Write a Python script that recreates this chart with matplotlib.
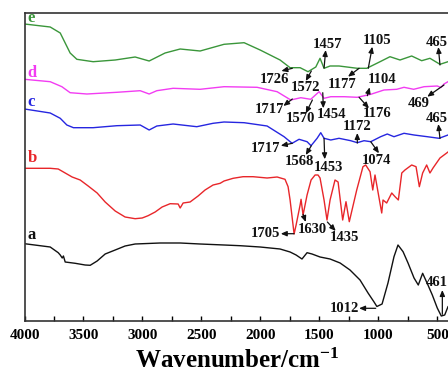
import matplotlib
matplotlib.use("Agg")
import matplotlib.pyplot as plt

plt.rcParams['font.family'] = ['Liberation Serif', 'DejaVu Serif']
plt.rcParams['font.weight'] = 'bold'
plt.rcParams['mathtext.fontset'] = 'custom'
plt.rcParams['mathtext.rm'] = 'Liberation Serif:bold'
plt.rcParams['mathtext.bf'] = 'Liberation Serif:bold'
plt.rcParams['mathtext.default'] = 'bf'

# ---------------- data (wavenumber, offset transmittance) ----------------
a_wn = [4000, 3782, 3714, 3697, 3680, 3670, 3655, 3570, 3486, 3443, 3384, 3316, 3231, 3147, 3062,
        2850, 2680, 2511, 2308, 2172, 2002, 1833, 1748, 1697, 1647, 1604, 1562, 1494, 1409, 1324,
        1240, 1155, 1087, 1036, 1012, 968, 918, 867, 833, 790, 748, 697, 661, 624, 579, 542, 500,
        466, 437, 409]
a_val = [77.3, 74, 68.3, 66, 63, 65, 59, 57.7, 56, 55.7, 60, 67, 71, 75, 77,
         78, 78, 77, 76, 75.3, 74, 72, 69, 66, 62, 68.3, 67, 64, 62, 58,
         51, 41, 28, 19, 14.5, 17, 38, 64.3, 76, 69.3, 58, 43, 36, 47.7, 36, 26, 13,
         5, 6, 14.3]

b_wn = [4000, 3782, 3714, 3655, 3596, 3528, 3460, 3384, 3316, 3231, 3147, 3062, 3002, 2952, 2892,
        2833, 2765, 2697, 2680, 2655, 2596, 2528, 2469, 2401, 2341, 2308, 2231, 2147, 2062, 1943,
        1858, 1791, 1765, 1748, 1714, 1697, 1663, 1655, 1638, 1604, 1570, 1536, 1511, 1494, 1460,
        1435, 1409, 1367, 1341, 1302, 1274, 1246, 1183, 1130, 1107, 1070, 1047, 1028, 971, 960,
        929, 886, 858, 830, 801, 774, 717, 680, 652, 624, 590, 562, 536, 477, 420, 409]
b_val = [152.7, 152.7, 152, 148, 144, 141, 135, 128, 119, 110, 104, 102.3, 103, 105.3, 109,
         114, 117.3, 117, 113, 118, 119, 125, 131, 136, 137.7, 140, 142.7, 144.3, 144.3, 143,
         144, 141.7, 134.3, 121, 87, 96, 116, 121.7, 106, 126, 141, 146, 146, 143, 121,
         101, 121, 141, 139, 101, 119.3, 99.3, 131, 154.3, 156, 149.3, 131, 146, 108, 121,
         118, 128, 124.3, 121, 148, 151, 156, 154.3, 134.3, 148, 156, 148, 153, 163, 168, 169]

c_wn = [4000, 3782, 3697, 3641, 3585, 3418, 3217, 3019, 2943, 2878, 2740, 2539, 2401, 2308, 2138,
        1943, 1799, 1731, 1672, 1604, 1570, 1519, 1488, 1460, 1403, 1333, 1234, 1178, 1121, 1064,
        980, 924, 867, 782, 697, 585, 485, 409]
c_val = [212, 208, 202.7, 196, 193.3, 193.3, 195.3, 196, 191, 195, 197, 194.3, 197.7, 199, 198.3,
         195, 184.3, 177.7, 181.7, 179.3, 175.3, 182.7, 188.3, 182.7, 181, 182.7, 180.3, 178.3, 180.3, 179.3,
         184.3, 187, 184.3, 187.7, 186, 184.3, 182.7, 186]

d_wn = [4000, 3782, 3683, 3613, 3471, 3217, 3019, 2943, 2878, 2740, 2511, 2308, 2028, 1858, 1742,
        1657, 1573, 1502, 1460, 1403, 1290, 1178, 1064, 952, 844, 782, 700, 612, 500, 469, 443, 409]
d_val = [241.7, 239.3, 234.3, 228.3, 227, 228.7, 230.3, 227, 230.3, 232.7, 231.7, 234.3, 233.7, 229.3, 221,
         223.3, 221.7, 229.3, 222.7, 224.3, 224.3, 223.7, 226.7, 231, 231.7, 233.7, 231.7, 234.3, 235, 233.5, 237, 239.3]

e_wn = [4000, 3782, 3697, 3655, 3613, 3556, 3418, 3231, 3062, 2943, 2808, 2680, 2511, 2308, 2138,
        2002, 1833, 1748, 1663, 1596, 1530, 1494, 1460, 1409, 1333, 1178, 1098, 985, 901, 816,
        717, 632, 562, 477, 409]
e_val = [297, 294, 288, 278, 268, 261.7, 259.3, 261, 264, 260, 268, 272, 270, 276.7, 278.3,
         271, 261, 253.3, 253.3, 249.3, 254, 262.7, 252.7, 255, 255, 252.7, 252.7, 259.3, 264.3, 261,
         265, 260.3, 262.7, 256.7, 259.3]

series_labels = ['a', 'b', 'c', 'd', 'e']
series_colors = ['#111111', '#e8262a', '#2626e0', '#f23cf2', '#3a963a']

x_ticks = [4000, 3500, 3000, 2500, 2000, 1500, 1000, 500]

# peak annotations: label, text position, arrow start (on curve), arrow end (near label)
peak_labels = ['1457', '1105', '465', '1726', '1572', '1177',
               '1104', '469', '1717', '1570', '1454', '1176',
               '1172', '465', '1717', '1568', '1453', '1074',
               '1705', '1630', '1435',
               '1012', '461']
peak_text_pos = [(1432, 276), (1008, 280), (508, 278.3), (1884, 241.7), (1621, 233.3), (1305, 236.7),
                 (966, 241.7), (655, 217.7), (1926, 211.7), (1657, 202.7), (1395, 207), (1013, 207.7),
                 (1178, 194.3), (508, 202), (1954, 172.7), (1672, 159.3), (1424, 153.3), (1013, 161),
                 (1958, 87.3), (1559, 91.7), (1290, 83.3),
                 (1290, 12.7), (505, 38.3)]
peak_arrow_from = [(1460, 253), (1085, 252.7), (477, 256), (1729, 252.7), (1568, 250), (1163, 252.7),
                   (1093, 225.3), (443, 236), (1729, 222), (1559, 221), (1471, 228.3), (1163, 223.7),
                   (1178, 178), (477, 182.5), (1729, 177.7), (1568, 175.3), (1460, 182.7), (1064, 179.3),
                   (1714, 87.3), (1638, 106.7), (1432, 99),
                   (1022, 12.7), (457, 6.7)]
peak_arrow_to = [(1446, 271), (1051, 274.3), (491, 274), (1822, 250), (1615, 240), (1257, 244.3),
                 (1073, 233.7), (585, 224.3), (1805, 215), (1615, 207.7), (1466, 212.7), (1079, 212.7),
                 (1178, 188), (491, 197), (1827, 175.3), (1615, 166), (1454, 161.7), (994, 167.7),
                 (1827, 87.3), (1615, 99), (1361, 90),
                 (1163, 12.7), (457, 31)]

# series letter positions
letter_pos = [(3975, 85.7), (3975, 163.3), (3975, 219.3), (3975, 247.7), (3975, 302.7)]

# ---------------- figure ----------------
fig = plt.figure(figsize=(4.48, 3.72), dpi=100)
ax = fig.add_axes([24.5 / 448, 1 - 321 / 372, 1 - 24.5 / 448, (321 - 13) / 372])

curves = [(a_wn, a_val), (b_wn, b_val), (c_wn, c_val), (d_wn, d_val), (e_wn, e_val)]
for (wn, val), col in zip(curves, series_colors):
    ax.plot(wn, val, color=col, lw=1.0, solid_joinstyle='round')

for lab, (x, y), col in zip(series_labels, letter_pos, series_colors):
    ax.text(x, y, lab, color=col, fontsize=12, fontweight='bold', ha='left', va='center')

for lab, tp, af, at in zip(peak_labels, peak_text_pos, peak_arrow_from, peak_arrow_to):
    ax.text(tp[0], tp[1], lab, fontsize=10.5, fontweight='bold', ha='center', va='center',
            color='#111111')
    ax.annotate('', xy=at, xytext=af,
                arrowprops=dict(arrowstyle='-|>,head_length=0.35,head_width=0.15',
                                color='#111111', lw=0.9, shrinkA=0, shrinkB=0))

ax.set_xlim(4000, 409)
ax.set_ylim(0, 308)
ax.set_xticks(x_ticks)
ax.set_xticks([3750, 3250, 2750, 2250, 1750, 1250, 750], minor=True)
ax.set_yticks([])
ax.tick_params(axis='x', which='both', direction='in', length=3.5, width=1.0, pad=6,
               labelsize=11, top=False)
for t in ax.get_xticklabels():
    t.set_fontweight('bold')
ax.spines['right'].set_visible(False)
for s in ['left', 'top', 'bottom']:
    ax.spines[s].set_linewidth(1.2)
    ax.spines[s].set_color('#333333')

fig.text(237 / 448, 1 - 368 / 372, 'Wavenumber/cm$^{-1}$', fontsize=18, fontweight='bold',
         ha='center', va='baseline')

fig.savefig('out.png', dpi=100)
